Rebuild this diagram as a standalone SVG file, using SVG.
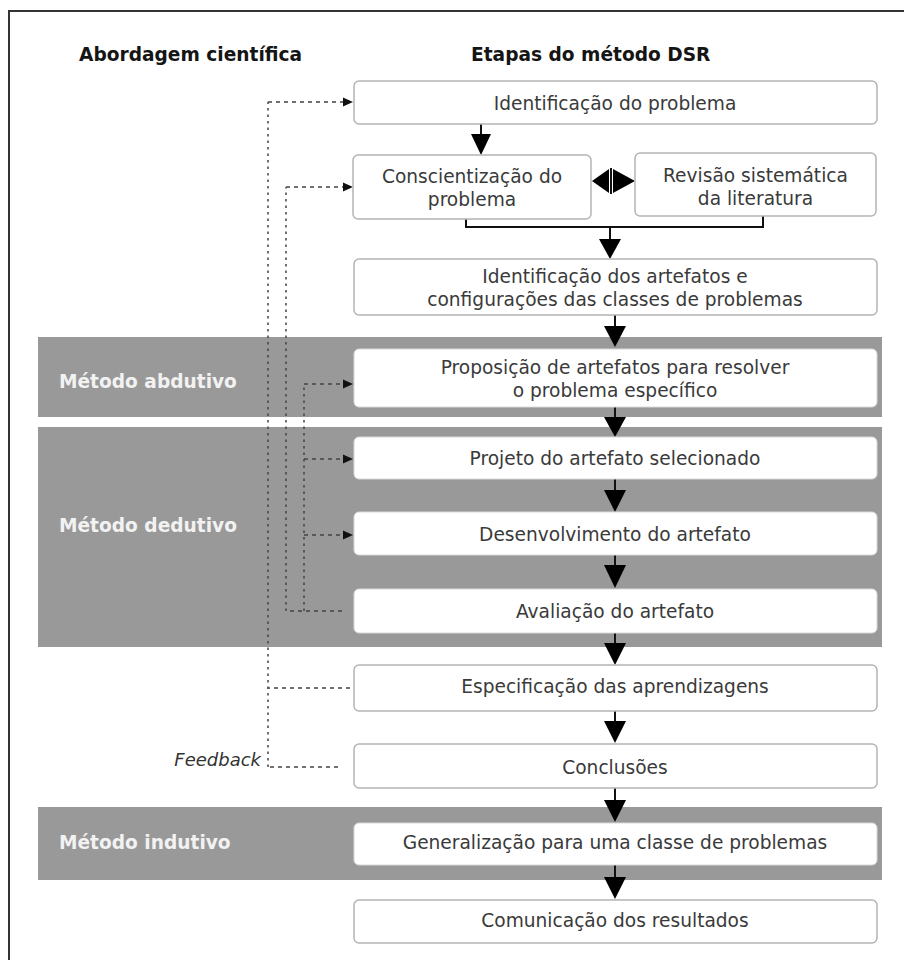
<svg xmlns="http://www.w3.org/2000/svg" width="904" height="960" viewBox="0 0 904 960">
<style>
.frame{fill:none;stroke:#333;stroke-width:2}
.band{fill:#999999}
.box{fill:#fff;stroke:#b4b4b4;stroke-width:1.5}
.ibox{fill:#fff;stroke:#d8d8d8;stroke-width:1}
.t{font-family:"DejaVu Sans",Verdana,sans-serif;font-size:18.6px;fill:#3a3a3a;text-anchor:middle}
.h{font-family:"DejaVu Sans",Verdana,sans-serif;font-size:18.6px;font-weight:bold;fill:#151515}
.bl{font-family:"DejaVu Sans",Verdana,sans-serif;font-size:18.6px;font-weight:bold;fill:#f2f2f2}
.fb{font-family:"DejaVu Sans",Verdana,sans-serif;font-size:18px;font-style:italic;fill:#333;text-anchor:end}
.ln{fill:none;stroke:#111;stroke-width:2}
.hd{fill:#000}
.dh{fill:none;stroke:#444;stroke-width:1.5;stroke-dasharray:4 4}
.dv{fill:none;stroke:#444;stroke-width:1.5;stroke-dasharray:2.5 4}
.sa{fill:#111}
</style>
<rect x="0" y="0" width="904" height="960" fill="#fff"/>
<path class="frame" d="M9,962 V11 H906"/>
<g id="headers">
<text class="h" x="79" y="61">Abordagem científica</text>
<text class="h" x="471" y="61">Etapas do método DSR</text>
</g>
<g id="band-abdutivo"><rect class="band" x="38" y="337" width="844" height="80"/><text class="bl" x="59" y="388">Método abdutivo</text></g>
<g id="band-dedutivo"><rect class="band" x="38" y="427" width="844" height="220"/><text class="bl" x="59" y="532">Método dedutivo</text></g>
<g id="band-indutivo"><rect class="band" x="38" y="807" width="844" height="73"/><text class="bl" x="59" y="849">Método indutivo</text></g>

<g id="connectors">
<!-- solid flow arrows -->
<path class="ln" d="M481,124 V134"/><polygon class="hd" points="471,134 491,134 481,155"/>
<path class="ln" d="M466,219 V227 H763 V216 M610,227 V240"/><polygon class="hd" points="599,239 621,239 610,259"/>
<polygon class="hd" points="592,181 609,169 609,193"/><polygon class="hd" points="635,181 613,169 613,193"/><path class="ln" d="M611,168 V194"/>
<path class="ln" d="M615,315 V326"/><polygon class="hd" points="604,326 626,326 615,347"/>
<path class="ln" d="M615,407 V418"/><polygon class="hd" points="604,417 626,417 615,437"/>
<path class="ln" d="M615,479 V491"/><polygon class="hd" points="604,490 626,490 615,512"/>
<path class="ln" d="M615,555 V566"/><polygon class="hd" points="604,565 626,565 615,588"/>
<path class="ln" d="M615,633 V644"/><polygon class="hd" points="604,643 626,643 615,665"/>
<path class="ln" d="M615,711 V722"/><polygon class="hd" points="604,721 626,721 615,743"/>
<path class="ln" d="M615,788 V801"/><polygon class="hd" points="604,800 626,800 615,822"/>
<path class="ln" d="M615,865 V878"/><polygon class="hd" points="604,877 626,877 615,899"/>
<!-- feedback lines -->
<path class="dv" d="M268,767 V102"/>
<path class="dh" d="M338,767 H268"/>
<path class="dh" d="M350,688 H268"/>
<path class="dh" d="M268,102 H344"/><polygon class="sa" points="343,97.5 353,102 343,106.5"/>
<path class="dv" d="M286,611 V187"/>
<path class="dh" d="M286,187 H344"/><polygon class="sa" points="343,182.5 353,187 343,191.5"/>
<path class="dh" d="M342,611 H286"/>
<path class="dv" d="M304,611 V384"/>
<path class="dh" d="M304,384 H344"/><polygon class="sa" points="343,379.5 353,384 343,388.5"/>
<path class="dh" d="M304,459 H344"/><polygon class="sa" points="343,454.5 353,459 343,463.5"/>
<path class="dh" d="M304,535 H344"/><polygon class="sa" points="343,530.5 353,535 343,539.5"/>
<text class="fb" x="261" y="766">Feedback</text>
</g>

<g id="n1"><rect class="box" x="354" y="81" width="523" height="43" rx="5"/><text class="t" x="615" y="110">Identificação do problema</text></g>
<g id="n2"><rect class="box" x="353" y="155" width="238" height="64" rx="5"/><text class="t" x="472" y="182.5">Conscientização do</text><text class="t" x="472" y="205.5">problema</text></g>
<g id="n3"><rect class="box" x="635" y="153" width="241" height="63" rx="5"/><text class="t" x="755.5" y="182">Revisão sistemática</text><text class="t" x="755.5" y="205">da literatura</text></g>
<g id="n4"><rect class="box" x="354" y="259" width="523" height="56" rx="5"/><text class="t" x="615" y="282.5">Identificação dos artefatos e</text><text class="t" x="615" y="305.5">configurações das classes de problemas</text></g>
<g id="n5"><rect class="ibox" x="354" y="349" width="523" height="58" rx="5"/><text class="t" x="615" y="373.5">Proposição de artefatos para resolver</text><text class="t" x="615" y="396.5">o problema específico</text></g>
<g id="n6"><rect class="ibox" x="354" y="437" width="523" height="42" rx="5"/><text class="t" x="615" y="465">Projeto do artefato selecionado</text></g>
<g id="n7"><rect class="ibox" x="354" y="512" width="523" height="43" rx="5"/><text class="t" x="615" y="541">Desenvolvimento do artefato</text></g>
<g id="n8"><rect class="ibox" x="354" y="589" width="523" height="44" rx="5"/><text class="t" x="615" y="618">Avaliação do artefato</text></g>
<g id="n9"><rect class="box" x="354" y="665" width="523" height="46" rx="5"/><text class="t" x="615" y="693">Especificação das aprendizagens</text></g>
<g id="n10"><rect class="box" x="354" y="744" width="523" height="44" rx="5"/><text class="t" x="615" y="774">Conclusões</text></g>
<g id="n11"><rect class="ibox" x="354" y="823" width="523" height="42" rx="5"/><text class="t" x="615" y="849">Generalização para uma classe de problemas</text></g>
<g id="n12"><rect class="box" x="354" y="900" width="523" height="43" rx="5"/><text class="t" x="615" y="927">Comunicação dos resultados</text></g>
</svg>
